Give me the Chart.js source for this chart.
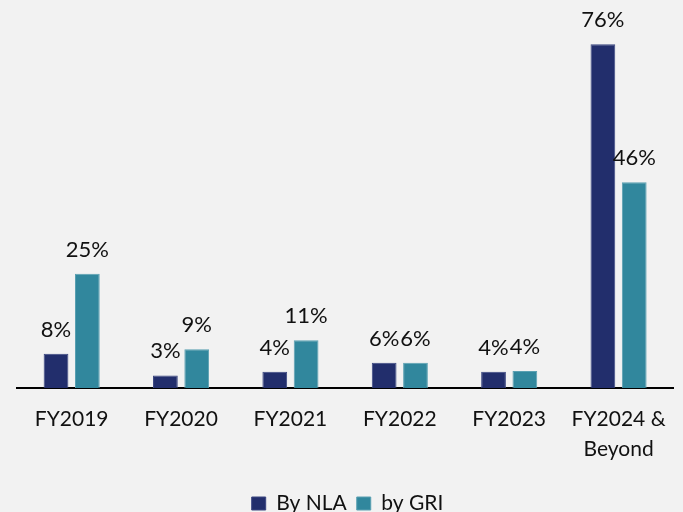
<!DOCTYPE html>
<html>
<head>
<meta charset="utf-8">
<script src="https://cdn.jsdelivr.net/npm/chart.js@4/dist/chart.umd.min.js"></script>
<style>
  html, body { margin: 0; padding: 0; background: #F2F2F2; }
  #wrap { width: 683px; height: 512px; }
</style>
</head>
<body>
<div id="wrap"><canvas id="c" width="683" height="512"></canvas></div>
<script>
const categories = ['FY2019', 'FY2020', 'FY2021', 'FY2022', 'FY2023', ['FY2024 &', 'Beyond']];
const nlaValues = [7.6, 2.8, 3.6, 5.6, 3.6, 76.4];
const griValues = [25.4, 8.6, 10.6, 5.6, 3.8, 45.7];
const nlaLabels = ['8%', '3%', '4%', '6%', '4%', '76%'];
const griLabels = ['25%', '9%', '11%', '6%', '4%', '46%'];
const seriesNames = ['By NLA', 'by GRI'];

const FONT = 'Lato, "Open Sans", sans-serif';
const TEXT = '#111111';

const valueLabels = {
  id: 'valueLabels',
  afterDatasetsDraw(chart) {
    const ctx = chart.ctx;
    const sets = [nlaLabels, griLabels];
    ctx.save();
    ctx.font = '22px ' + FONT;
    ctx.fillStyle = TEXT;
    ctx.textAlign = 'center';
    ctx.textBaseline = 'alphabetic';
    chart.data.datasets.forEach((ds, di) => {
      const meta = chart.getDatasetMeta(di);
      meta.data.forEach((el, i) => {
        ctx.fillText(sets[di][i], el.x, el.y - 17);
      });
    });
    ctx.restore();
  }
};

new Chart(document.getElementById('c'), {
  type: 'bar',
  data: {
    labels: categories,
    datasets: [
      { label: seriesNames[0], data: nlaValues, backgroundColor: '#222E6C', borderColor: '#3A4680', borderWidth: 1 },
      { label: seriesNames[1], data: griValues, backgroundColor: '#31879D', borderColor: '#5AA0B2', borderWidth: 1 }
    ]
  },
  options: {
    responsive: false,
    animation: false,
    devicePixelRatio: 1,
    layout: { padding: { top: 28, left: 17, right: 5, bottom: -12 } },
    datasets: { bar: { categoryPercentage: 0.573, barPercentage: 0.79 } },
    scales: {
      x: {
        grid: { display: false, drawTicks: false },
        border: { display: true, color: '#000000', width: 2 },
        ticks: { color: TEXT, font: { family: FONT, size: 21, lineHeight: 1.4 }, padding: 17, maxRotation: 0, autoSkip: false },
        afterFit: s => { s.height = 95; }
      },
      y: {
        display: false,
        min: 0,
        max: 80
      }
    },
    plugins: {
      legend: {
        position: 'bottom',
        labels: { color: TEXT, font: { family: FONT, size: 21 }, boxWidth: 14, boxHeight: 13, padding: 10 }
      },
      tooltip: { enabled: false }
    }
  },
  plugins: [valueLabels]
});
</script>
</body>
</html>
